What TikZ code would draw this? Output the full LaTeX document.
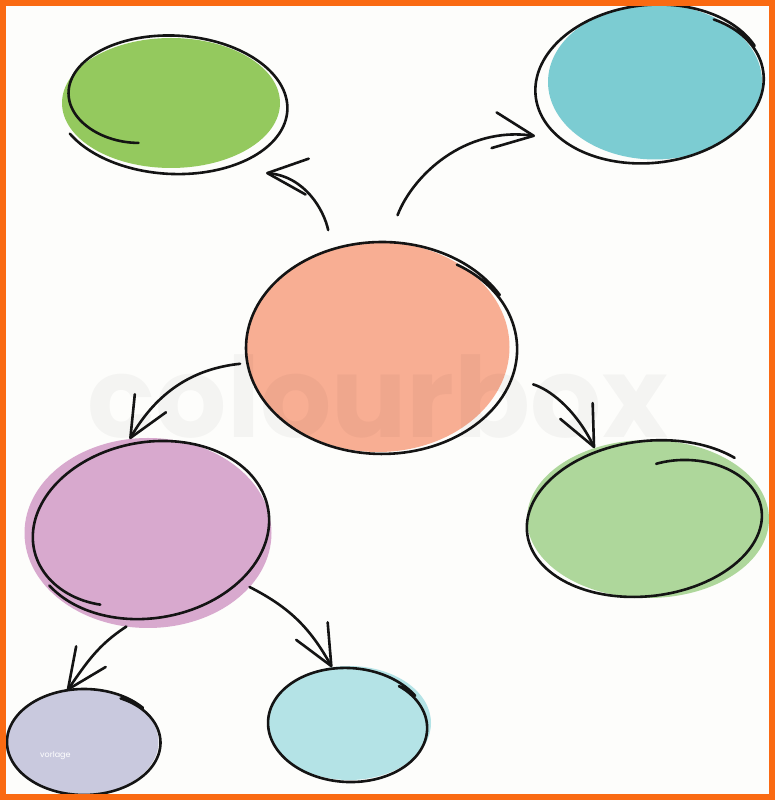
\documentclass[tikz,border=0pt]{standalone}
\usepackage{fontspec}
\newfontfamily\markfont{Poppins}
\usetikzlibrary{arrows.meta,shapes.geometric}

\definecolor{ink}{HTML}{141414}
\definecolor{frame}{HTML}{FA6A12}
\definecolor{paper}{HTML}{FDFDFB}
\definecolor{leaf}{HTML}{94C95E}
\definecolor{teal}{HTML}{7CCCD2}
\definecolor{peach}{HTML}{F8AE93}
\definecolor{orchid}{HTML}{D8A9CE}
\definecolor{mintgreen}{HTML}{AED79B}
\definecolor{lilac}{HTML}{C9C9DE}
\definecolor{aquablue}{HTML}{B4E3E6}

% hand drawn ring round a node: node, offset, rx, ry, rotation, start angle, span, dip, decay
\newcommand{\sketchring}[9]{%
  \draw[outline, shift={(#1.center)}, shift={#2}, rotate=#5]
    plot[domain=0:#7, samples=160, variable=\s]
      ({#3*(1-#8*exp(-\s/#9))*cos(#6-\s)}, {#4*(1-#8*exp(-\s/#9))*sin(#6-\s)});
}

\begin{document}
\begin{tikzpicture}[x=1pt, y=1pt,
    blob/.style={ellipse, inner sep=0pt, outer sep=0pt},
    outline/.style={draw=ink, line width=2.6pt, line cap=round, line join=round},
    arrow/.style={draw=ink, line width=2.6pt, line cap=round,
      -{Straight Barb[length=40pt, width=36pt, round]}}]
   \useasboundingbox (0,0) rectangle (775,800);
   \fill[paper] (0,0) rectangle (775,800);

   % bubbles
   \node[blob, fill=leaf, minimum width=218, minimum height=130] (greenA) at (171,697) {};
   \node[blob, fill=teal, minimum width=214, minimum height=155] (tealA) at (655,718) {};
   \node[blob, fill=peach, minimum width=263, minimum height=210] (salmon) at (378,453) {};
   \node[blob, fill=orchid, minimum width=247, minimum height=190] (purple) at (148,267) {};
   \node[blob, fill=mintgreen, minimum width=242, minimum height=158] (mint) at (648,281) {};
   \node[blob, fill=lilac, minimum width=153, minimum height=105] (lavender) at (82,58) {};
   \node[blob, fill=aquablue, minimum width=164, minimum height=114] (aqua) at (349,77) {};

   % watermark
   \node[anchor=base, text=black, text opacity=0.035, inner sep=0pt]
     (mark) at (378,362) {\markfont\bfseries\fontsize{112}{112}\selectfont colourbox};
   \node[anchor=base west, text=white, inner sep=0pt]
     (caption) at (40,42) {\markfont\fontsize{8}{8}\selectfont vorlage};

   % outlines
   \sketchring{greenA}{(1,-1)}{116}{70}{-3}{245}{395}{0.36}{55}
   \sketchring{tealA}{(-5,-2)}{115}{79}{6}{50}{390}{0.05}{30}
   \sketchring{salmon}{(4,-1)}{136}{106}{0}{55}{385}{0.04}{30}
   \sketchring{purple}{(2,3)}{120}{88}{10}{235}{390}{0.10}{35}
   \sketchring{mint}{(0,0)}{122}{78}{7}{80}{400}{0.30}{55}
   \sketchring{lavender}{(2,0)}{77}{53}{0}{60}{380}{0.05}{30}
   \sketchring{aqua}{(-1,-2)}{80}{57}{-3}{50}{375}{0.05}{30}

   % arrows
   \coordinate (toGreen) at ([shift={(95,-70)}]greenA.center);
   \coordinate (toTeal) at ([shift={(-120,-54)}]tealA.center);
   \draw[arrow, shorten <=19pt] (salmon.115) to[out=102, in=-5] (toGreen);
   \draw[arrow, shorten <=29pt] (salmon.85) to[out=69, in=172] (toTeal);
   \draw[arrow, shorten <=8pt] (salmon.187) to[out=186, in=60] (purple.101);
   \draw[arrow, shorten <=30pt] (salmon.-13) to[out=-16, in=116] (mint.127);
   \draw[arrow] (purple.-28) to[out=-27, in=119] (aqua.107);
   \draw[arrow] (purple.-103) to[out=213, in=55] (lavender.106);

   % frame
   \draw[frame, line width=6pt] (3,3) rectangle (772,797);
\end{tikzpicture}
\end{document}
